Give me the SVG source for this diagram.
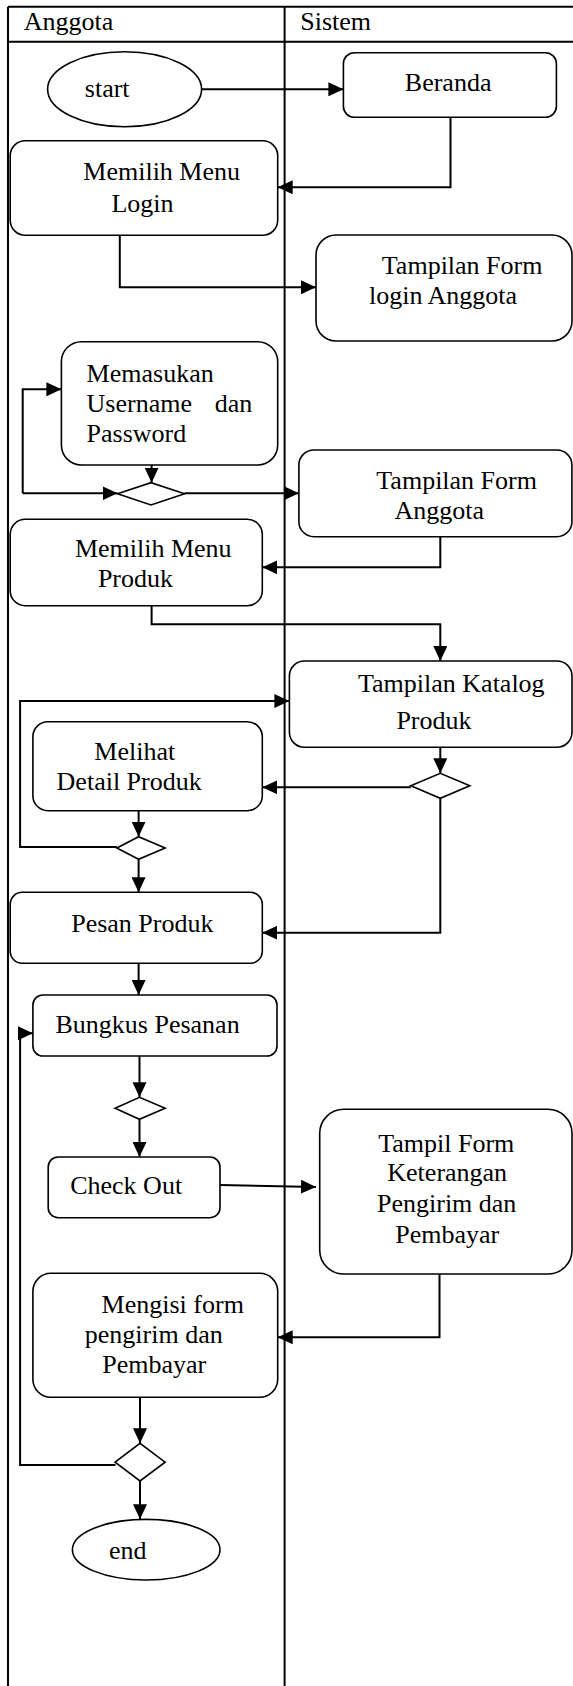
<svg xmlns="http://www.w3.org/2000/svg" width="573" height="1686" viewBox="0 0 573 1686">
<style>
.lane{fill:none;stroke:#000;stroke-width:2}
.n{fill:#fff;stroke:#000;stroke-width:1.6}
.c{fill:none;stroke:#000;stroke-width:2}
.t{font-family:"Liberation Serif","Times New Roman",serif;font-size:26px;fill:#000}
</style>
<defs>
<marker id="ah" markerUnits="userSpaceOnUse" markerWidth="16" markerHeight="14" refX="15" refY="7" orient="auto">
<path d="M0,0 L15,7 L0,14 z" fill="#000"/>
</marker>
</defs>
<rect width="573" height="1686" fill="#fff"/>
<g id="lanes">
<path class="lane" d="M8,6.7 H574 M8,41.7 H574 M8,6.7 V1687 M284.6,6.7 V1687"/>
<text class="t" x="23.7" y="30">Anggota</text>
<text class="t" x="300.3" y="30">Sistem</text>
</g>
<g id="connectors">
<path class="c" d="M201.7,89.3 H343.4" marker-end="url(#ah)"/>
<path class="c" d="M450.5,117.3 V187.3 H277.7" marker-end="url(#ah)"/>
<path class="c" d="M119.8,235.3 V287.3 H316" marker-end="url(#ah)"/>
<path class="c" d="M151.6,465 V482.7" marker-end="url(#ah)"/>
<path class="c" d="M22.7,493.3 V389.3 H61.4" marker-end="url(#ah)"/>
<path class="c" d="M22.7,493.3 H117.5" marker-end="url(#ah)"/>
<path class="c" d="M184.6,493.3 H298.9" marker-end="url(#ah)"/>
<path class="c" d="M440.3,536.7 V567.3 H262.3" marker-end="url(#ah)"/>
<path class="c" d="M151.6,605.7 V624.3 H440.3 V661" marker-end="url(#ah)"/>
<path class="c" d="M116.9,847 H20.1 V701 H289.4" marker-end="url(#ah)"/>
<path class="c" d="M440.3,747.3 V773.3" marker-end="url(#ah)"/>
<path class="c" d="M410.8,787.3 H262.3" marker-end="url(#ah)"/>
<path class="c" d="M440.3,798.3 V932.7 H262.3" marker-end="url(#ah)"/>
<path class="c" d="M138.6,810.7 V836.7" marker-end="url(#ah)"/>
<path class="c" d="M138.6,859.3 V892.3" marker-end="url(#ah)"/>
<path class="c" d="M138.6,963.3 V995" marker-end="url(#ah)"/>
<path class="c" d="M139.5,1056 V1097.3" marker-end="url(#ah)"/>
<path class="c" d="M139.5,1119.3 V1157" marker-end="url(#ah)"/>
<path class="c" d="M220,1185 L316,1187" marker-end="url(#ah)"/>
<path class="c" d="M439.5,1274 V1337.3 H277.7" marker-end="url(#ah)"/>
<path class="c" d="M140,1397.3 V1443.3" marker-end="url(#ah)"/>
<path class="c" d="M115.5,1465 H20.1 V1033.3 H32.9" marker-end="url(#ah)"/>
<path class="c" d="M140,1481 V1519.3" marker-end="url(#ah)"/>
</g>
<g id="start">
<ellipse class="n" cx="124.6" cy="89.2" rx="77" ry="37.5"/>
<text class="t" x="84.8" y="96.7">start</text>
</g>
<g id="beranda">
<rect class="n" x="343.4" y="52.7" width="213" height="64.6" rx="11"/>
<text class="t" x="404.8" y="90.7">Beranda</text>
</g>
<g id="menu-login">
<rect class="n" x="10.2" y="140.7" width="267.5" height="94.6" rx="15"/>
<text class="t" x="83.3" y="180">Memilih Menu</text>
<text class="t" x="111.4" y="211.7">Login</text>
</g>
<g id="form-login">
<rect class="n" x="316" y="235" width="256" height="106" rx="20"/>
<text class="t" x="381.8" y="274">Tampilan Form</text>
<text class="t" x="369" y="304">login Anggota</text>
</g>
<g id="memasukan">
<rect class="n" x="61.4" y="341.7" width="216.3" height="123.3" rx="20"/>
<text class="t" x="86.6" y="381.7">Memasukan</text>
<text class="t" y="411.7"><tspan x="86.6">Username</tspan><tspan x="214.8">dan</tspan></text>
<text class="t" x="86.6" y="441.7">Password</text>
</g>
<g id="dec1">
<polygon class="n" points="117.5,493.8 151,482.7 184.6,493.8 151,505"/>
</g>
<g id="form-anggota">
<rect class="n" x="298.9" y="450" width="273" height="86.7" rx="15"/>
<text class="t" x="376.3" y="489.3">Tampilan Form</text>
<text class="t" x="394.6" y="519.3">Anggota</text>
</g>
<g id="menu-produk">
<rect class="n" x="10.2" y="519.3" width="252.1" height="86.4" rx="15"/>
<text class="t" x="74.9" y="556.7">Memilih Menu</text>
<text class="t" x="97.9" y="586.7">Produk</text>
</g>
<g id="katalog">
<rect class="n" x="289.4" y="661" width="282.6" height="86.3" rx="15"/>
<text class="t" x="358" y="691.7">Tampilan Katalog</text>
<text class="t" x="396.4" y="729.3">Produk</text>
</g>
<g id="dec-katalog">
<polygon class="n" points="410.8,785.8 440.3,773.3 469.8,785.8 440.3,798.3"/>
</g>
<g id="detail">
<rect class="n" x="32.9" y="721.7" width="229.4" height="89" rx="15"/>
<text class="t" x="94.3" y="760">Melihat</text>
<text class="t" x="56.6" y="790">Detail Produk</text>
</g>
<g id="dec2">
<polygon class="n" points="116.9,848 138.6,836.7 165.1,848 138.6,859.3"/>
</g>
<g id="pesan">
<rect class="n" x="10.2" y="892.3" width="252.1" height="71" rx="12"/>
<text class="t" x="71.2" y="931.7">Pesan Produk</text>
</g>
<g id="bungkus">
<rect class="n" x="32.9" y="995" width="244.1" height="61" rx="10"/>
<text class="t" x="55.5" y="1032.7">Bungkus Pesanan</text>
</g>
<g id="dec3">
<polygon class="n" points="115.1,1108.3 139.5,1097.3 165.1,1108.3 139.5,1119.3"/>
</g>
<g id="checkout">
<rect class="n" x="48.2" y="1157" width="171.8" height="60.7" rx="10"/>
<text class="t" x="70.2" y="1194.3">Check Out</text>
</g>
<g id="form-keterangan">
<rect class="n" x="319.7" y="1109.3" width="252.3" height="164.7" rx="24"/>
<text class="t" x="378.2" y="1151.7">Tampil Form</text>
<text class="t" x="387.3" y="1181">Keterangan</text>
<text class="t" x="377" y="1211.7">Pengirim dan</text>
<text class="t" x="395.3" y="1242.7">Pembayar</text>
</g>
<g id="mengisi">
<rect class="n" x="32.9" y="1273.3" width="244.8" height="124" rx="18"/>
<text class="t" x="101.6" y="1313.3">Mengisi form</text>
<text class="t" x="84.8" y="1342.7">pengirim dan</text>
<text class="t" x="102.3" y="1373.3">Pembayar</text>
</g>
<g id="dec4">
<polygon class="n" points="115.1,1462.2 140,1443.3 165.1,1462.2 140,1481"/>
</g>
<g id="end">
<ellipse class="n" cx="146.2" cy="1549.7" rx="73.8" ry="30.3"/>
<text class="t" x="108.9" y="1559.3">end</text>
</g>
</svg>
